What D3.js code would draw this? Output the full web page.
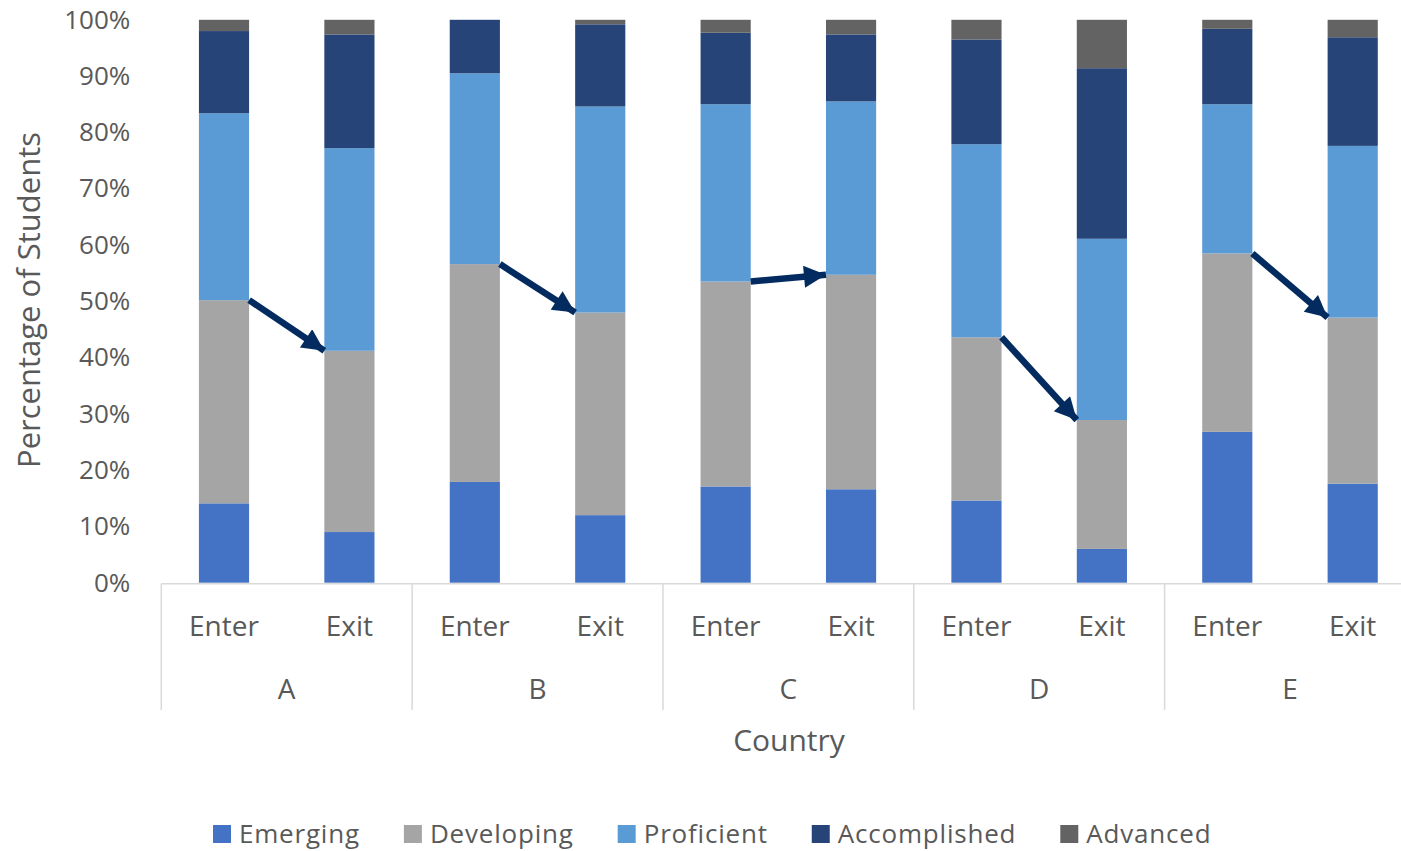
<!DOCTYPE html>
<html><head><meta charset="utf-8">
<script src="https://cdn.jsdelivr.net/npm/d3@7/dist/d3.min.js"></script>
<style>body{margin:0;background:#fff}svg{display:block}text{font-family:"Open Sans",sans-serif;fill:#595959}</style>
</head><body><svg id="c" width="1401" height="851"></svg>
<script>
const countries = ["A","B","C","D","E"];
const stages = ["Enter","Exit"];
const levels = ["Emerging","Developing","Proficient","Accomplished","Advanced"];
const colors = ["#4472C4","#A5A5A5","#5B9BD5","#264478","#636363"];
// values per bar, order: A Enter, A Exit, B Enter, B Exit, ... E Exit
const emerging     = [14.1, 9.0, 17.9, 12.0, 17.1, 16.6, 14.6,  6.0, 26.8, 17.6];
const developing   = [36.1,32.2, 38.7, 36.0, 36.4, 38.1, 29.0, 22.9, 31.7, 29.5];
const proficient   = [33.2,36.0, 33.9, 36.6, 31.5, 30.8, 34.3, 32.2, 26.5, 30.5];
const accomplished = [14.6,20.2,  9.5, 14.6, 12.7, 11.9, 18.6, 30.3, 13.4, 19.3];
const advanced     = [ 2.0, 2.6,  0.0,  0.8,  2.3,  2.6,  3.5,  8.6,  1.6,  3.1];
const yTicks = [0,10,20,30,40,50,60,70,80,90,100];

(function(){
const series = [emerging, developing, proficient, accomplished, advanced];
const rows = [];
countries.forEach((c,ci)=>stages.forEach((s,si)=>{
  const i = ci*2+si; const r = {key:c+"|"+s, country:c, stage:s};
  levels.forEach((l,li)=>r[l]=series[li][i]); rows.push(r);
}));

const svg = d3.select("#c");
const L = 161.3, R = 1415.4, T = 19.8, B = 582.7;
const x = d3.scaleBand().domain(rows.map(r=>r.key)).range([L,R]).paddingInner(0.6).paddingOuter(0.3);
const xg = d3.scaleBand().domain(countries).range([L,R]);
const y = d3.scaleLinear().domain([0,100]).range([B,T]);

const stack = d3.stack().keys(levels)(rows);
svg.append("g").selectAll("g").data(stack).join("g").attr("fill",(d,i)=>colors[i])
  .selectAll("rect").data(d=>d).join("rect")
  .attr("x",d=>x(d.data.key)).attr("width",x.bandwidth())
  .attr("y",d=>y(d[1])).attr("height",d=>y(d[0])-y(d[1]));

// y axis
const ya = svg.append("g").attr("transform",`translate(${L},0)`)
  .call(d3.axisLeft(y).tickValues(yTicks).tickFormat(d=>d+"%").tickSize(0).tickPadding(31));
ya.select(".domain").remove();
ya.selectAll("text").style("font-size","26px").style("font-family","Open Sans").attr("fill","#595959");

// x axis line and separators
svg.append("line").attr("x1",L).attr("x2",R).attr("y1",B+1).attr("y2",B+1).attr("stroke","#d9d9d9").attr("stroke-width",1.5);
svg.append("g").selectAll("line").data(countries.concat(["end"])).join("line")
  .attr("x1",d=>d==="end"?R:xg(d)).attr("x2",d=>d==="end"?R:xg(d))
  .attr("y1",B+1).attr("y2",710).attr("stroke","#d9d9d9").attr("stroke-width",1.5);
svg.append("g").selectAll("text").data(rows).join("text")
  .attr("x",d=>x(d.key)+x.bandwidth()/2).attr("y",636).attr("text-anchor","middle")
  .style("font-size","28px").text(d=>d.stage);
svg.append("g").selectAll("text").data(countries).join("text")
  .attr("x",d=>xg(d)+xg.bandwidth()/2).attr("y",699).attr("text-anchor","middle")
  .style("font-size","28px").text(d=>d);

// titles
svg.append("text").attr("x",789).attr("y",751).attr("text-anchor","middle").style("font-size","30px").text("Country");
svg.append("text").attr("transform",`translate(40,300) rotate(-90)`).attr("text-anchor","middle").style("font-size","31px").text("Percentage of Students");

// arrows: from Enter developing top to Exit developing top
const defs = svg.append("defs");
defs.append("marker").attr("id","ah").attr("viewBox","0 0 10 10").attr("refX",10).attr("refY",5)
  .attr("markerWidth",25).attr("markerHeight",22).attr("markerUnits","userSpaceOnUse").attr("orient","auto")
  .append("path").attr("d","M0,0 L10,5 L0,10 Z").attr("fill","#032B5F");
const arrows = countries.map((c,ci)=>{
  const a = rows[ci*2], b = rows[ci*2+1];
  return {x1:x(a.key)+x.bandwidth(), y1:y(a.Emerging+a.Developing), x2:x(b.key), y2:y(b.Emerging+b.Developing)};
});
svg.append("g").selectAll("line").data(arrows).join("line")
  .attr("x1",d=>d.x1).attr("y1",d=>d.y1).attr("x2",d=>d.x2).attr("y2",d=>d.y2)
  .attr("stroke","#032B5F").attr("stroke-width",6.5).attr("marker-end","url(#ah)");

// legend
const lg = svg.append("g");
let lx = 213;
levels.forEach((l,i)=>{
  lg.append("rect").attr("x",lx).attr("y",825).attr("width",18).attr("height",18).attr("fill",colors[i]);
  const t = lg.append("text").attr("x",lx+26).attr("y",843).style("font-size","26px").style("letter-spacing","0.8px").text(l);
  lx += 26 + t.node().getComputedTextLength() + 44;
});
})();
</script></body></html>
